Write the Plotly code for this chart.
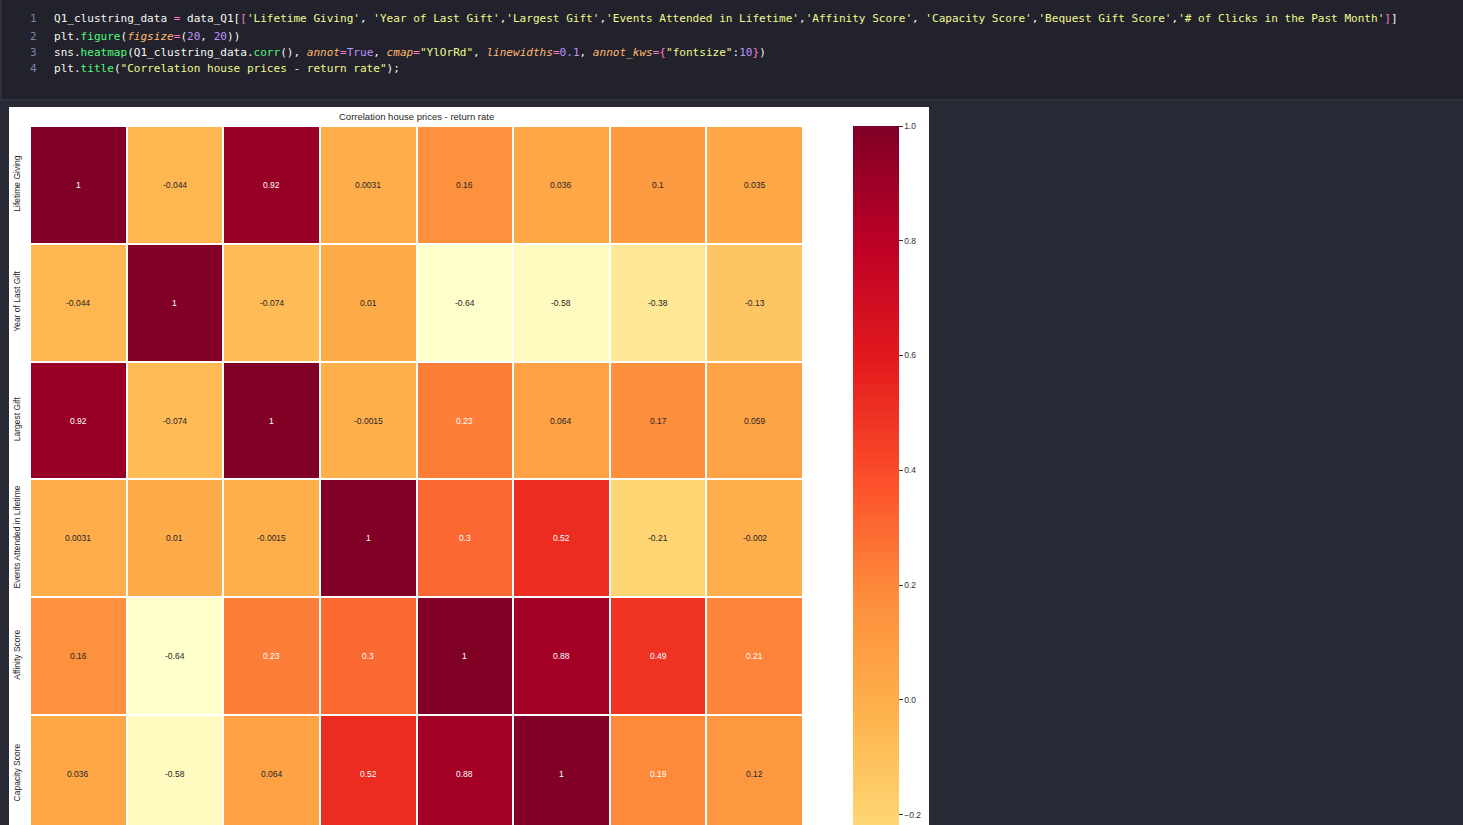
import plotly.graph_objects as go

# ---------------- data ----------------
row_labels = ["Lifetime Giving", "Year of Last Gift", "Largest Gift",
              "Events Attended in Lifetime", "Affinity Score", "Capacity Score"]
col_labels = ["Lifetime Giving", "Year of Last Gift", "Largest Gift",
              "Events Attended in Lifetime", "Affinity Score", "Capacity Score",
              "Bequest Gift Score", "# of Clicks in the Past Month"]

row_lifetime_giving = [1, -0.044, 0.92, 0.0031, 0.16, 0.036, 0.1, 0.035]
row_year_last_gift = [-0.044, 1, -0.074, 0.01, -0.64, -0.58, -0.38, -0.13]
row_largest_gift = [0.92, -0.074, 1, -0.0015, 0.23, 0.064, 0.17, 0.059]
row_events_attended = [0.0031, 0.01, -0.0015, 1, 0.3, 0.52, -0.21, -0.002]
row_affinity = [0.16, -0.64, 0.23, 0.3, 1, 0.88, 0.49, 0.21]
row_capacity = [0.036, -0.58, 0.064, 0.52, 0.88, 1, 0.19, 0.12]

z = [row_lifetime_giving, row_year_last_gift, row_largest_gift,
     row_events_attended, row_affinity, row_capacity]

colorbar_ticks = [-0.6, -0.4, -0.2, 0.0, 0.2, 0.4, 0.6, 0.8, 1.0]

ylorrd = ["#ffffcc", "#ffeda0", "#fed976", "#feb24c", "#fd8d3c",
          "#fc4e2a", "#e31a1c", "#bd0026", "#800026"]

# ---------------- helpers ----------------
W, H = 1463, 825
PL, PR, PT, PB = 30, 803, 126, 825          # plot area in pixels
pw, ph = PR - PL, PB - PT


def px(x):
    return (x - PL) / pw


def py(y):
    return (PB - y) / ph


def hex2rgb(h):
    return [int(h[i:i + 2], 16) for i in (1, 3, 5)]


zmin = min(min(r) for r in z)
zmax = max(max(r) for r in z)


def cmap(v):
    t = (v - zmin) / (zmax - zmin) * (len(ylorrd) - 1)
    i = min(int(t), len(ylorrd) - 2)
    f = t - i
    a, b = hex2rgb(ylorrd[i]), hex2rgb(ylorrd[i + 1])
    return [a[k] + (b[k] - a[k]) * f for k in range(3)]


def lum(rgb):
    out = []
    for c in rgb:
        c = c / 255
        out.append(c / 12.92 if c <= 0.03928 else ((c + 0.055) / 1.055) ** 2.4)
    return 0.2126 * out[0] + 0.7152 * out[1] + 0.0722 * out[2]


colorscale = [[i / (len(ylorrd) - 1), c] for i, c in enumerate(ylorrd)]

fig = go.Figure()
fig.add_trace(go.Heatmap(
    z=z, x=list(range(len(col_labels))), y=list(range(len(row_labels))),
    zmin=zmin, zmax=zmax, colorscale=colorscale, xgap=2, ygap=2,
    hoverinfo="skip",
    colorbar=dict(
        x=px(853), xanchor="left", y=1, yanchor="top", thickness=46,
        len=(zmax - zmin) * 573.5, lenmode="pixels", xpad=0, ypad=0,
        outlinewidth=0, tickvals=colorbar_ticks, tickformat=".1f",
        tickprefix="\u00a0",
        ticks="outside", ticklen=4, tickwidth=1, tickcolor="#333333",
        tickfont=dict(family="Liberation Sans", size=8.5, color="#333333"),
    ),
))

annotations = []
for ri, row in enumerate(z):
    for ci, v in enumerate(row):
        col = "#262626" if lum(cmap(v)) > 0.408 else "#ffffff"
        annotations.append(dict(
            x=ci, y=ri, xref="x", yref="y", text="{:.2g}".format(v),
            showarrow=False, font=dict(family="Liberation Sans", size=8.5, color=col)))

# title
annotations.append(dict(x=px(416), y=py(117), xref="paper", yref="paper",
                        text="Correlation house prices - return rate", showarrow=False,
                        font=dict(family="Liberation Sans", size=9.5, color="#262626"),
                        xanchor="center", yanchor="middle"))

# ---------------- code cell ----------------
WHITE, PINK, YEL, GRN, ORG, PUR = "#f8f8f2", "#ff79c6", "#f1fa8c", "#50fa7b", "#ffb86c", "#bd93f9"
S = "\u00a0"


def sp(t, c, it=False):
    t = t.replace(" ", S)
    s = '<span style="color:%s">%s</span>' % (c, t)
    return "<i>%s</i>" % s if it else s


code_lines = [
    [("Q1_clustring_data ", WHITE), ("=", PINK), (" data_Q1[", WHITE), ("[", PINK),
     ("'Lifetime Giving'", YEL), (", ", WHITE), ("'Year of Last Gift'", YEL), (",", WHITE),
     ("'Largest Gift'", YEL), (",", WHITE), ("'Events Attended in Lifetime'", YEL), (",", WHITE),
     ("'Affinity Score'", YEL), (", ", WHITE), ("'Capacity Score'", YEL), (",", WHITE),
     ("'Bequest Gift Score'", YEL), (",", WHITE), ("'# of Clicks in the Past Month'", YEL),
     ("]", PINK), ("]", WHITE)],
    [("plt.", WHITE), ("figure", GRN), ("(", WHITE), ("figsize", ORG, True), ("=", PINK),
     ("(", WHITE), ("20", PUR), (", ", WHITE), ("20", PUR), ("))", WHITE)],
    [("sns.", WHITE), ("heatmap", GRN), ("(Q1_clustring_data.", WHITE), ("corr", GRN),
     ("(), ", WHITE), ("annot", ORG, True), ("=", PINK), ("True", PUR), (", ", WHITE),
     ("cmap", ORG, True), ("=", PINK), ('"YlOrRd"', YEL), (", ", WHITE),
     ("linewidths", ORG, True), ("=", PINK), ("0.1", PUR), (", ", WHITE),
     ("annot_kws", ORG, True), ("=", PINK), ("{", PINK), ('"fontsize"', YEL), (":", WHITE),
     ("10", PUR), ("}", PINK), (")", WHITE)],
    [("plt.", WHITE), ("title", GRN), ("(", WHITE),
     ('"Correlation house prices - return rate"', YEL), (");", WHITE)],
]
line_ys = [19, 36, 52, 69]
for n, (parts, ly) in enumerate(zip(code_lines, line_ys)):
    txt = "".join(sp(*p) for p in parts)
    annotations.append(dict(x=px(52), y=py(ly), xref="paper", yref="paper", text=txt,
                            showarrow=False, xanchor="left", yanchor="middle",
                            font=dict(family="DejaVu Sans Mono", size=11.05, color=WHITE)))
    annotations.append(dict(x=px(39), y=py(ly), xref="paper", yref="paper", text=str(n + 1),
                            showarrow=False, xanchor="right", yanchor="middle",
                            font=dict(family="DejaVu Sans Mono", size=11.05, color="#7f86a8")))

shapes = [
    # code cell
    dict(type="rect", xref="paper", yref="paper", x0=px(1), x1=px(1470), y0=py(100), y1=py(-5),
         fillcolor="#21222c", line=dict(color="#3a3c4c", width=1), layer="below"),
    # white figure area
    dict(type="rect", xref="paper", yref="paper", x0=px(9), x1=px(929), y0=py(900), y1=py(107),
         fillcolor="#ffffff", line=dict(width=0), layer="below"),
]

fig.update_layout(
    width=W, height=H,
    margin=dict(l=PL, r=W - PR, t=PT, b=H - PB, pad=0),
    paper_bgcolor="#272935", plot_bgcolor="#ffffff",
    xaxis=dict(range=[-0.5, len(col_labels) - 0.5], showticklabels=False, showgrid=False,
               zeroline=False, ticks=""),
    yaxis=dict(range=[-0.5 + ph / 117.8, -0.5], tickvals=list(range(len(row_labels))),
               ticktext=row_labels, tickangle=-90, showgrid=False, zeroline=False, ticks="",
               ticklabelstandoff=7,
               tickfont=dict(family="Liberation Sans", size=8.5, color="#262626")),
    annotations=annotations, shapes=shapes, showlegend=False,
)

fig.write_html("out.html", config={"displayModeBar": False})
